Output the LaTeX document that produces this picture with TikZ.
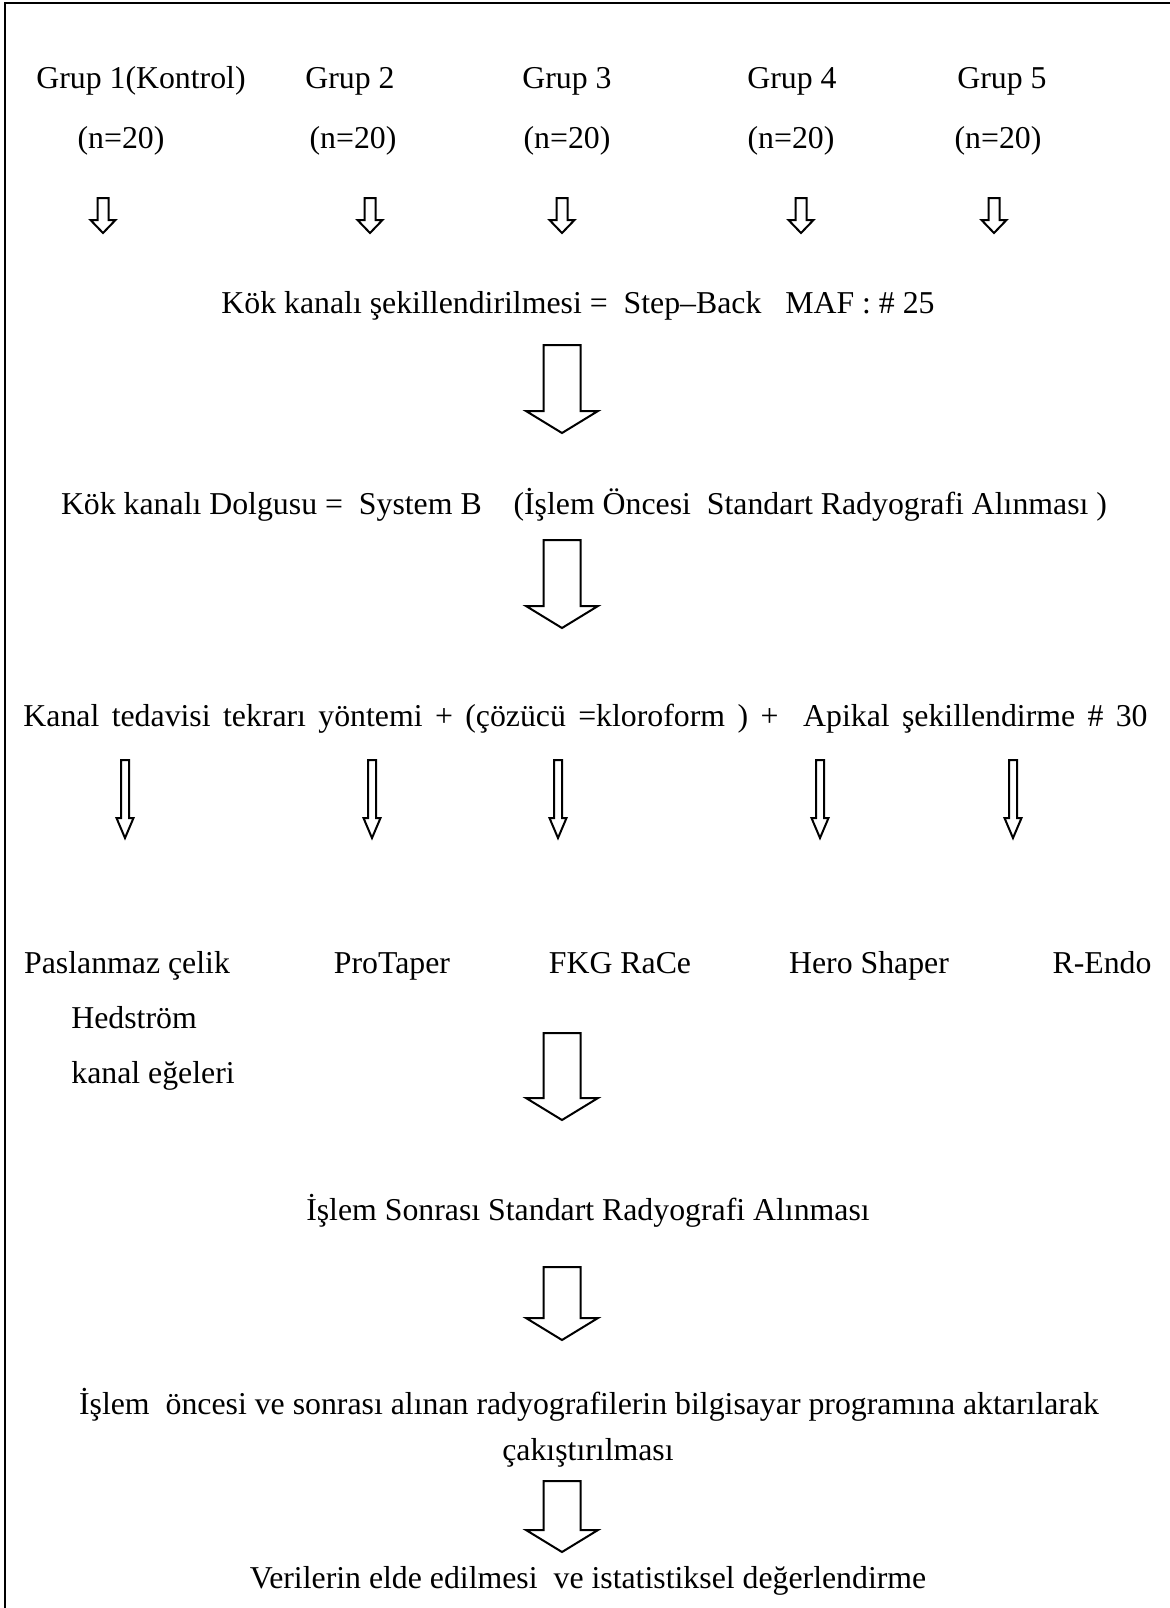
\documentclass[tikz,border=0pt]{standalone}
\usepackage{fontspec}
\setmainfont{Liberation Serif}
\usepackage{tikz}
\usetikzlibrary{positioning}

% hollow down arrow: x, top, tip, shaft half width, head half width, head length
\newcommand{\hollowarrow}[6]{%
  \draw[arrline] (#1-#4,#2) -- (#1+#4,#2) -- (#1+#4,#3-#6) -- (#1+#5,#3-#6)
    -- (#1,#3) -- (#1-#5,#3-#6) -- (#1-#4,#3-#6) -- cycle;}

\begin{document}
\begin{tikzpicture}[x=0.5pt,y=-0.5pt,
    txt/.style={font=\fontsize{15.9}{19}\selectfont,inner sep=0pt,anchor=base},
    arrline/.style={line width=1pt,line join=miter}]
  \useasboundingbox (0,0) rectangle (1170,1608);
  \draw[line width=1.4pt] (5,1608) -- (5,3) -- (1170,3);

  % groups
  \node[txt] (g1) at (141,88) {Grup 1(Kontrol)};
  \node[txt] (g2) at (350,88) {Grup 2};
  \node[txt] (g3) at (567,88) {Grup 3};
  \node[txt] (g4) at (792,88) {Grup 4};
  \node[txt] (g5) at (1002,88) {Grup 5};
  \foreach \x/\i in {121/1,353/2,567/3,791/4,998/5}
    \node[txt] (n\i) at (\x,148) {(n=20)};
  \foreach \x in {103,370,562,801,994}
    {\hollowarrow{\x}{198}{233}{5.5}{12.5}{13}}

  \node[txt] (shape) at (578,313)
    {Kök kanalı şekillendirilmesi =\ \ Step–Back\ \ \ MAF : \# 25};
  \hollowarrow{562}{345}{433}{18.5}{36}{22}

  \node[txt] (fill) at (584,514)
    {Kök kanalı Dolgusu =\ \ System B\ \ \ \ (İşlem Öncesi\ \ Standart Radyografi Alınması )};
  \hollowarrow{562}{540}{628}{18.5}{36}{22}

  \node[txt] (retr) at (585.5,726)
    {\makebox[562pt][s]{Kanal tedavisi tekrarı yöntemi + (çözücü =kloroform ) +\ \ Apikal şekillendirme \# 30}};
  \foreach \x in {125,372,558,820,1013}
    {\hollowarrow{\x}{760}{838}{4}{8.5}{20}}

  % files
  \node[txt] (f1) at (127,973) {Paslanmaz çelik};
  \node[txt,anchor=base west] (f1b) at (71,1028) {Hedström};
  \node[txt,anchor=base west] (f1c) at (71,1083) {kanal eğeleri};
  \node[txt] (f2) at (392,973) {ProTaper};
  \node[txt] (f3) at (620,973) {FKG RaCe};
  \node[txt] (f4) at (869,973) {Hero Shaper};
  \node[txt] (f5) at (1102,973) {R-Endo};
  \hollowarrow{562}{1033}{1120}{18.5}{36}{22}

  \node[txt] (post) at (588,1220) {İşlem Sonrası Standart Radyografi Alınması};
  \hollowarrow{562}{1267}{1340}{18.5}{36}{22}

  \node[txt] (comb) at (589,1414)
    {İşlem\ \ öncesi ve sonrası alınan radyografilerin bilgisayar programına aktarılarak};
  \node[txt] (comb2) at (588,1460) {çakıştırılması};
  \hollowarrow{562}{1481}{1552}{18.5}{36}{22}

  \node[txt] (stat) at (588,1588) {Verilerin elde edilmesi\ \ ve istatistiksel değerlendirme};
\end{tikzpicture}
\end{document}
